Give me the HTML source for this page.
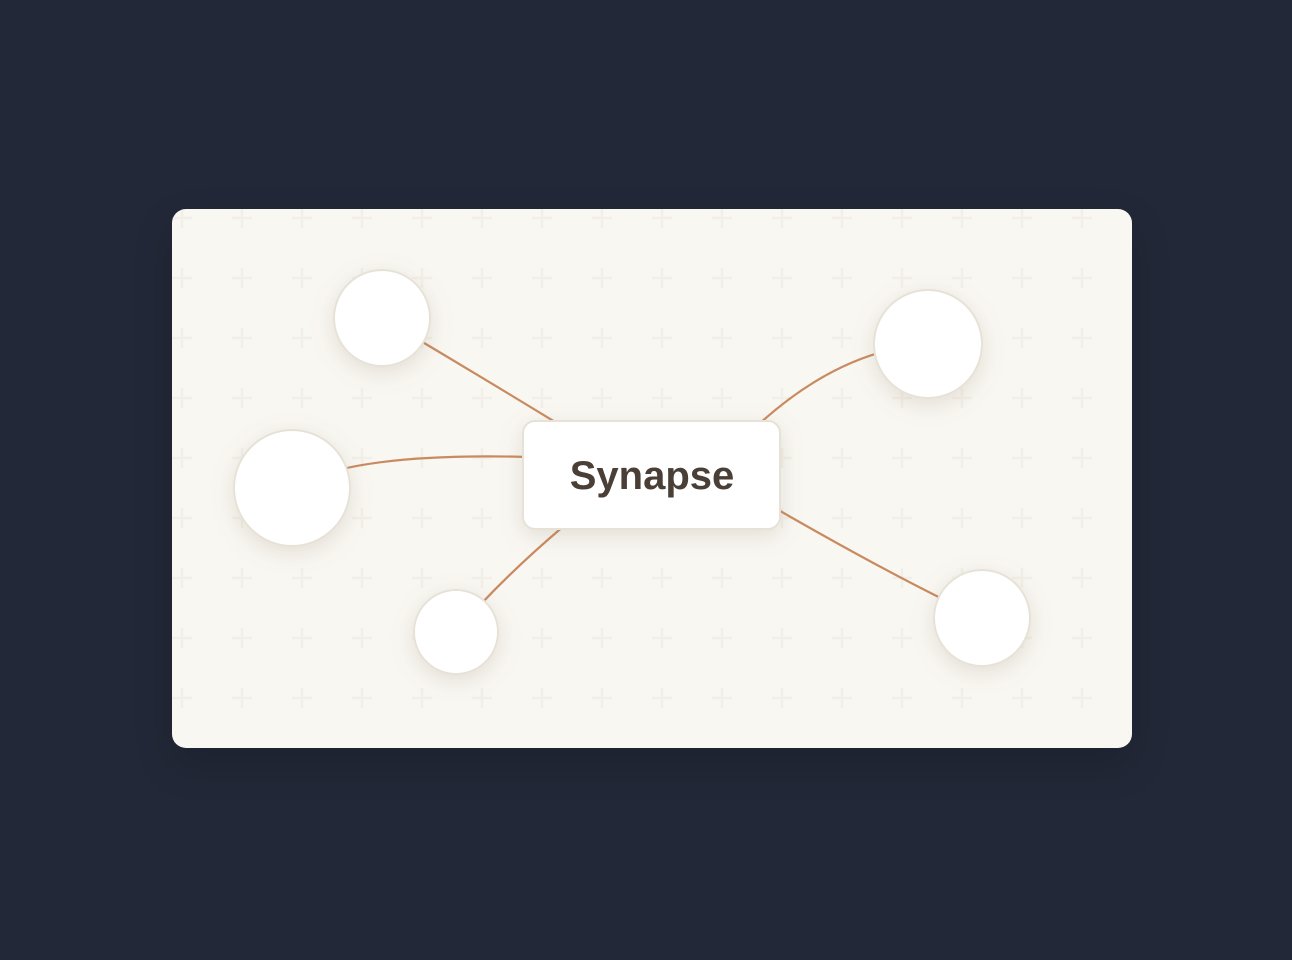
<!DOCTYPE html>
<html><head><meta charset="utf-8"><style>
html,body{margin:0;padding:0;width:1292px;height:960px;background:#222837;overflow:hidden}
.card{position:absolute;left:172px;top:209px;width:960px;height:539px;border-radius:14px;background:#f9f7f2;box-shadow:0 16px 40px rgba(0,0,0,0.15);overflow:hidden}
svg{position:absolute;left:0;top:0}
</style></head><body>
<div class="card">
<svg width="960" height="539" viewBox="172 209 960 539">
<defs>
<pattern id="p" x="152" y="188" width="60" height="60" patternUnits="userSpaceOnUse">
<path d="M30 20v20M20 30h20" stroke="#f2efe8" stroke-width="2.5"/>
</pattern>
<filter id="s" x="-50%" y="-50%" width="200%" height="200%">
<feDropShadow dx="0" dy="6" stdDeviation="11" flood-color="#8a7a60" flood-opacity="0.2"/>
</filter>
</defs>
<rect x="172" y="209" width="960" height="539" fill="url(#p)"/>
<g fill="none" stroke="#c98a5f" stroke-width="2.2" stroke-linecap="round">
<path d="M382 318 Q470 370 560 425"/>
<path d="M292 488 Q350 452 530 457"/>
<path d="M456 632 Q500 580 565 525"/>
<path d="M928 344 Q840 350 758 425"/>
<path d="M982 618 Q900 580 775 508"/>
</g>
<g fill="#fff" stroke="#e7e2d7" stroke-width="2" filter="url(#s)">
<circle cx="382" cy="318" r="48"/>
<circle cx="292" cy="488" r="58"/>
<circle cx="456" cy="632" r="42"/>
<circle cx="928" cy="344" r="54"/>
<circle cx="982" cy="618" r="48"/>
<rect x="523" y="421" width="257" height="108" rx="12"/>
</g>
<text x="652" y="489" text-anchor="middle" font-family="Liberation Sans, sans-serif" font-weight="bold" font-size="40" fill="#4a3f37">Synapse</text>
</svg>
</div>
</body></html>
